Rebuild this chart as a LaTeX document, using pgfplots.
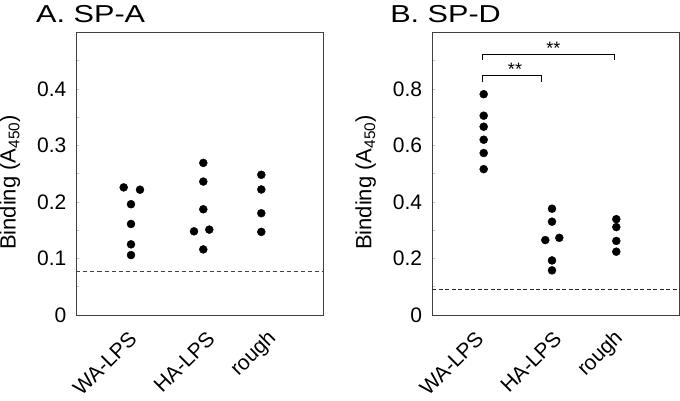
\documentclass[border=0pt]{standalone}
\usepackage{pgfplots}
\pgfplotsset{compat=1.18}
\usepackage{fontspec}
\setmainfont{Liberation Sans}
\begin{document}
\begin{tikzpicture}[x=1pt,y=1pt]
\pgfplotsset{
  panel/.style={
    scale only axis, height=282.7pt, anchor=south west,
    axis line style={black!75, line width=0.8pt},
    enlargelimits=false, ymin=0,
    ytick pos=left, xtick pos=bottom,
    tick align=inside,
    major tick length=2.5pt, minor tick length=2.5pt,
    every tick/.style={black!25, line width=0.5pt},
    major x tick style={draw=none},
    yticklabel style={font=\fontsize{21}{25}\selectfont, inner sep=0pt, anchor=east, xshift=-10pt},
    xticklabel style={font=\fontsize{21}{25}\selectfont, inner sep=0pt, yshift=-20pt, rotate=45, anchor=east},
    xticklabels={WA-LPS,HA-LPS,rough},
    every axis y label/.style={at={(axis description cs:0,0.5)}, xshift=-66.5pt, yshift=-8.8pt, rotate=90, anchor=center, font=\fontsize{22}{26}\selectfont},
    ylabel={Binding (A\textsubscript{450})},
    dots/.style={only marks, mark=*, mark size=4pt, black},
  }
}
% Panel A
\begin{axis}[panel, at={(76.5pt,85pt)}, width=247pt,
  xmin=0, xmax=247, ymax=0.5,
  ytick={0,0.1,0.2,0.3,0.4}, yticklabels={0,0.1,0.2,0.3,0.4},
  minor ytick={0.05,0.15,0.25,0.35,0.45},
  xtick={56.5,134.5,196.5},
  title={A. SP-A},
  every axis title/.style={at={(axis description cs:0,1)}, anchor=base west, xshift=-40.5pt, yshift=9.6pt, xscale=1.25, inner sep=0pt, font=\fontsize{24.5}{28}\selectfont}]
\addplot[black!75, line width=0.8pt, dash pattern=on 4pt off 3pt] coordinates {(0,0.077) (247,0.077)};
\addplot[dots] coordinates {
(47.2,0.2257) (63.5,0.2216) (54.5,0.196) (54.5,0.161) (54.5,0.125) (54.5,0.106)};
\addplot[dots] coordinates {
(126.8,0.269) (126.8,0.236) (126.8,0.187) (117.5,0.148) (132.8,0.151) (126.8,0.116)};
\addplot[dots] coordinates {
(184.8,0.248) (184.8,0.222) (184.8,0.180) (184.8,0.147)};
\end{axis}
% Panel B
\begin{axis}[panel, at={(432.3pt,85pt)}, width=247.2pt,
  xmin=0, xmax=247.2, ymax=1.0,
  ytick={0,0.2,0.4,0.6,0.8}, yticklabels={0,0.2,0.4,0.6,0.8},
  minor ytick={0.1,0.3,0.5,0.7,0.9},
  xtick={47.5,125.5,187.5},
  title={B. SP-D},
  every axis title/.style={at={(axis description cs:0,1)}, anchor=base west, xshift=-42.3pt, yshift=9.6pt, xscale=1.25, inner sep=0pt, font=\fontsize{24.5}{28}\selectfont}]
\addplot[black!85, line width=0.8pt, dash pattern=on 4pt off 2.5pt] coordinates {(0,0.091) (247.2,0.091)};
\addplot[dots] coordinates {
(51.4,0.781) (51.4,0.705) (51.4,0.666) (51.4,0.620) (51.4,0.573) (51.4,0.516)};
\addplot[dots] coordinates {
(119.7,0.376) (119.7,0.330) (113,0.265) (127,0.273) (119.7,0.193) (119.7,0.158)};
\addplot[dots] coordinates {
(184,0.339) (184,0.311) (184,0.262) (184,0.224)};
\addplot[black, line width=0.9pt] coordinates {(50.4,0.8225) (50.4,0.848) (108.7,0.848) (108.7,0.8225)};
\addplot[black, line width=0.9pt] coordinates {(50.4,0.901) (50.4,0.9226) (181.7,0.9226) (181.7,0.901)};
\node[font=\fontsize{18}{20}\selectfont, inner sep=0pt] at (axis cs:82.7,0.8675) {**};
\node[font=\fontsize{18}{20}\selectfont, inner sep=0pt] at (axis cs:121,0.9417) {**};
\end{axis}
\pgfresetboundingbox
\path (0,0) rectangle (680,400);
\end{tikzpicture}
\end{document}
